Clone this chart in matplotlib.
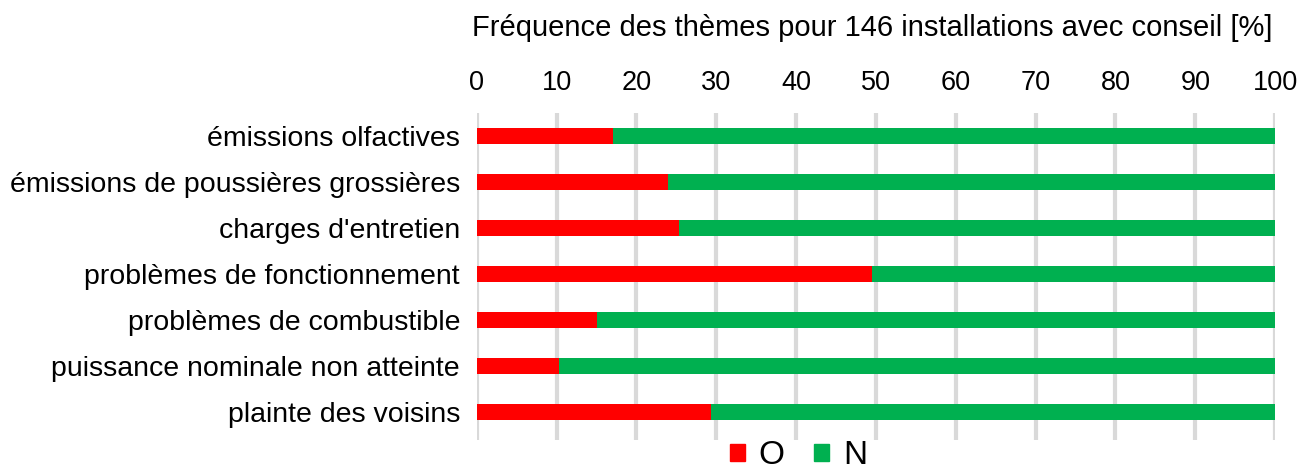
import matplotlib.pyplot as plt
from matplotlib.patches import Patch

plt.rcParams['font.family'] = ['Liberation Sans', 'DejaVu Sans']

# Data
themes = ['émissions olfactives', 'émissions de poussières grossières',
          "charges d'entretien", 'problèmes de fonctionnement',
          'problèmes de combustible', 'puissance nominale non atteinte',
          'plainte des voisins']
oui = [17.1, 24.0, 25.3, 49.5, 15.1, 10.3, 29.3]
non = [100 - v for v in oui]
series_labels = ['O', 'N']
colors = ['#ff0000', '#00b050']
xticks = list(range(0, 101, 10))

fig = plt.figure(figsize=(13.09, 4.70), dpi=100)
ax = fig.add_axes([0.3642, 0.0638, 0.6099, 0.6958])

y = list(range(len(themes)))
ax.barh(y, oui, height=0.35, color=colors[0], zorder=3)
ax.barh(y, non, left=oui, height=0.35, color=colors[1], zorder=3)

ax.set_xlim(0, 100)
ax.set_ylim(6.61, -0.5)
ax.set_xticks(xticks)
ax.xaxis.tick_top()
ax.tick_params(axis='x', length=0, labelsize=19.5, pad=12.5)
ax.set_yticks(y)
ax.set_yticklabels(themes)
ax.tick_params(axis='y', length=0, labelsize=20.5, pad=12)
ax.grid(axis='x', color='#d9d9d9', linewidth=3, zorder=0)
for s in ax.spines.values():
    s.set_visible(False)

fig.text(0.666, 0.94, 'Fréquence des thèmes pour 146 installations avec conseil [%]',
         ha='center', va='center', fontsize=21)

handles = [Patch(color=c, label=l) for c, l in zip(colors, series_labels)]
fig.legend(handles=handles, loc='center', bbox_to_anchor=(0.610, 0.03),
           ncol=2, frameon=False, fontsize=24, handlelength=0.45,
           handleheight=0.45, handletextpad=0.4, columnspacing=0.9)

fig.savefig('out.png', dpi=100)
